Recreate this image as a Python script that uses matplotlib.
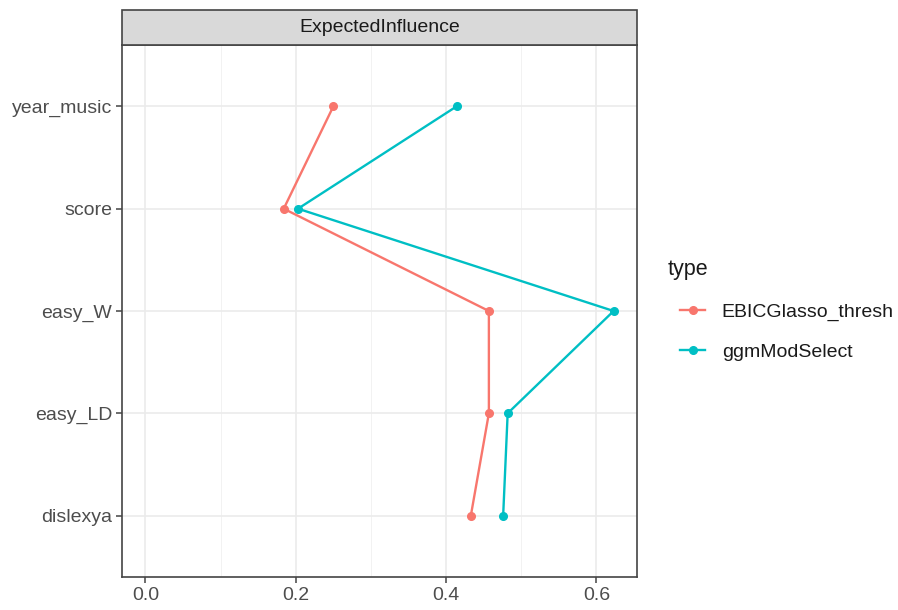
import numpy as np
import matplotlib
matplotlib.use('Agg')
import matplotlib.pyplot as plt
from matplotlib.lines import Line2D
from matplotlib.patches import Rectangle

plt.rcParams['font.family'] = ['Liberation Sans', 'DejaVu Sans']

# node order from top to bottom
nodes = ['year_music', 'score', 'easy_W', 'easy_LD', 'dislexya']
ebic = [0.250, 0.184, 0.457, 0.457, 0.433]
ggm = [0.414, 0.203, 0.623, 0.482, 0.476]
series_names = ['EBICGlasso_thresh', 'ggmModSelect']
colors = ['#F8766D', '#00BFC4']
xticks = [0.0, 0.2, 0.4, 0.6]
strip_title = 'ExpectedInfluence'
legend_title = 'type'

W, H = 898, 610
fig = plt.figure(figsize=(W / 100, H / 100), dpi=100)
ax = fig.add_axes([0.1359, 0.0541, 0.5735, 0.8721])

ypos = np.arange(len(nodes), 0, -1)
for vals, name, col in zip([ebic, ggm], series_names, colors):
    ax.plot(vals, ypos, color=col, lw=1.7, marker='o', ms=5.5, label=name,
            solid_capstyle='butt')

# ggplot-like scales: include 0, expand 5%
lo, hi = 0.0, max(max(ebic), max(ggm))
pad = (hi - lo) * 0.05
ax.set_xlim(lo - pad, hi + pad)
ax.set_ylim(0.4, len(nodes) + 0.6)
ax.set_xticks(xticks)
ax.set_xticklabels(['%.1f' % t for t in xticks])
ax.set_xticks([0.1, 0.3, 0.5], minor=True)
ax.set_yticks(ypos)
ax.set_yticklabels(nodes)

ax.grid(True, which='major', color='#EBEBEB', lw=1.2)
ax.grid(True, which='minor', axis='x', color='#F2F2F2', lw=0.7)
ax.set_axisbelow(True)
for s in ax.spines.values():
    s.set_color('#444444')
    s.set_linewidth(1.2)
ax.tick_params(which='major', length=4, width=1.1, color='#444444',
               labelcolor='#4D4D4D', labelsize=14, pad=3)
ax.tick_params(which='minor', length=0)

# facet strip
strip = Rectangle((0.1359, 0.9262), 0.5735, 0.0574, transform=fig.transFigure,
                  facecolor='#D9D9D9', edgecolor='#444444', lw=1.2)
fig.patches.append(strip)
fig.text(0.1359 + 0.5735 / 2, 0.9262 + 0.0287, strip_title, ha='center',
         va='center', fontsize=14, color='#1A1A1A')

# legend (title drawn separately so keys are indented like ggplot)
fig.text(668 / W, 1 - 269 / H, legend_title, ha='left', va='center',
         fontsize=15.5, color='#1A1A1A')
handles = [Line2D([], [], color=c, lw=1.7, marker='o', ms=5.5) for c in colors]
leg = fig.legend(handles, series_names, loc='upper left',
                 bbox_to_anchor=(680 / W, 1 - 303 / H), frameon=False,
                 fontsize=14, handlelength=1.3, labelspacing=1.17,
                 handletextpad=0.85, borderaxespad=0, borderpad=0)
for t in leg.get_texts():
    t.set_color('#1A1A1A')

fig.savefig('out.png', dpi=100)
